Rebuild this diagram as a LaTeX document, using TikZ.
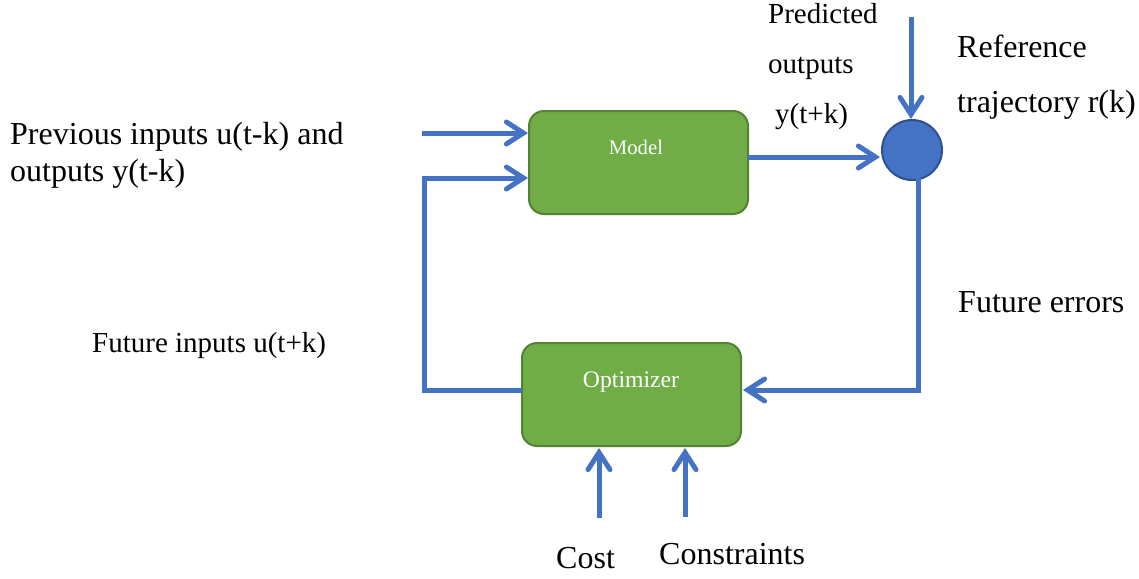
\documentclass[tikz,border=0pt]{standalone}
\usepackage{fontspec}
\setmainfont{Liberation Serif}
\usetikzlibrary{arrows.meta}
\definecolor{arrblue}{HTML}{4472C4}
\definecolor{circblue}{HTML}{4472C4}
\definecolor{circedge}{HTML}{2F528F}
\definecolor{boxgreen}{HTML}{70AD47}
\definecolor{boxedge}{HTML}{548235}
\tikzset{
  flow/.style={draw=arrblue, line width=5pt},
  flowarr/.style={flow, -{Straight Barb[length=17pt,width=22pt,line cap=round]}},
  block/.style={draw=boxedge, line width=2pt, fill=boxgreen, rounded corners=15pt, minimum width=219pt, minimum height=103pt, inner sep=0pt},
  lbl/.style={font=\fontsize{32}{36}\selectfont, inner sep=0pt, anchor=base west},
  lbls/.style={font=\fontsize{29}{34}\selectfont, inner sep=0pt, anchor=base west},
}
\begin{document}
\begin{tikzpicture}[x=1pt,y=-1pt]
\useasboundingbox (0,0) rectangle (1139,578);
% blocks
\node[block] (model) at (638.5,162.5) {};
\node[text=white, font=\fontsize{20.7}{24}\selectfont, inner sep=0pt, anchor=base] (modeltxt) at (636,154) {Model};
\node[block] (opt) at (631.5,394.5) {};
\node[text=white, font=\fontsize{23.7}{28}\selectfont, inner sep=0pt, anchor=base] (opttxt) at (631,387) {Optimizer};
\node[circle, draw=circedge, line width=2pt, fill=circblue, minimum size=60pt, inner sep=0pt] (sum) at (912,150) {};
% coordinates
\coordinate (inA) at (422,133);
\coordinate (mA) at (528,133);
\coordinate (mB) at (528,178);
\coordinate (cA) at (424,178);
\coordinate (cB) at (424,390);
\coordinate (oL) at (522,390);
\coordinate (mR) at (748,157);
\coordinate (sL) at (880,157);
\coordinate (rTop) at (911,17);
\coordinate (sT) at (911,119);
\coordinate (sB) at (918,178);
\coordinate (eC) at (918,390);
\coordinate (oR) at (743,390);
\coordinate (costS) at (599,518);
\coordinate (costE) at (599,448);
\coordinate (consS) at (685,517);
\coordinate (consE) at (685,448);
% connectors
\draw[flowarr] (inA) -- (mA);
\draw[flowarr] (oL) -- (cB) -- (cA) -- (mB);
\draw[flowarr] (mR) -- (sL);
\draw[flowarr] (rTop) -- (sT);
\draw[flowarr] (sB) -- (eC) -- (oR);
\draw[flowarr] (costS) -- (costE);
\draw[flowarr] (consS) -- (consE);
% labels
\node[lbl] (prev1) at (10,144) {Previous inputs u(t-k) and};
\node[lbl] (prev2) at (10,181) {outputs y(t-k)};
\node[lbls] (fut) at (92,352) {Future inputs u(t+k)};
\node[lbls] (pred1) at (768,24) {Predicted};
\node[lbls] (pred2) at (768,74) {outputs};
\node[lbls] (pred3) at (775,123) {y(t+k)};
\node[lbl] (ref1) at (957,58) {Reference};
\node[lbl] (ref2) at (957,112) {trajectory r(k)};
\node[lbl] (ferr) at (958,312) {Future errors};
\node[lbl] (cost) at (556,568) {Cost};
\node[lbl] (cons) at (659,564) {Constraints};
\end{tikzpicture}
\end{document}
